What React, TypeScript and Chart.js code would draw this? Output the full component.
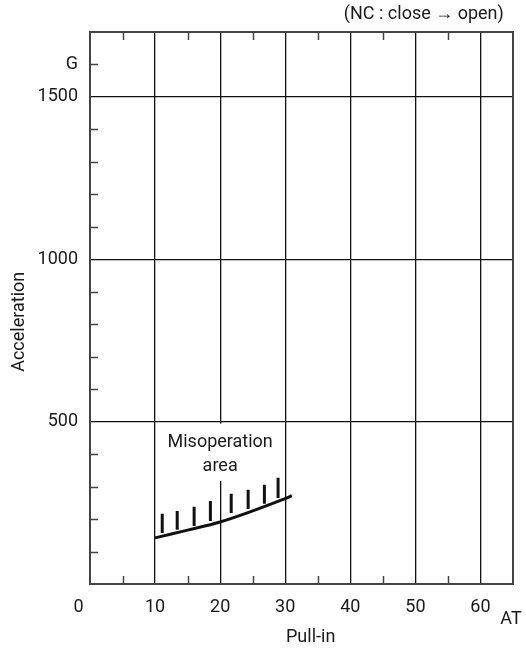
import React, { useEffect, useRef } from "react";
import { Chart, registerables } from "chart.js";

Chart.register(...registerables);

// Data
const curveX = [10, 15, 20, 25, 30, 31];
const curveY = [142, 166, 191, 225, 263, 272];
const hatchX = [11.1, 13.4, 16.0, 18.5, 21.7, 24.3, 26.8, 28.9];
const hatchBottom = [157, 167, 179, 194, 219, 231, 247, 265];
const hatchTop = [216, 225, 238, 256, 278, 290, 306, 327];
const xMajorTicks = [10, 20, 30, 40, 50, 60];
const xMinorTicks = [5, 15, 25, 35, 45, 55];
const yMajorTicks = [500, 1000, 1500];
const yMinorTicks = [100, 200, 300, 400, 600, 700, 800, 900, 1100, 1200, 1300, 1400, 1600];
const areaLabel = ["Misoperation", "area"];
const areaLabelX = 20;
const areaLabelY = [435, 361];
const titleText = "(NC : close \u2192 open)";
const xTitle = "Pull-in";
const yTitle = "Acceleration";
const xUnit = "AT";
const yUnit = "G";

const FONT = "Roboto, 'Liberation Sans Narrow', sans-serif";
const TEXT = "#1a1a1a";
const BORDER = "#444";

export default function App() {
  const ref = useRef<HTMLCanvasElement | null>(null);

  useEffect(() => {
    if (!ref.current) return;

    const hatchData: any[] = [];
    hatchX.forEach((x, i) => {
      hatchData.push({ x, y: hatchBottom[i] });
      hatchData.push({ x, y: hatchTop[i] });
      hatchData.push({ x, y: null });
    });

    const framePlugin = {
      id: "frame",
      beforeDatasetsDraw(chart: any) {
        const { ctx, chartArea, scales } = chart;
        const xs = scales.x;
        const ys = scales.y;
        ctx.save();
        // label background (cuts the grid line under the label)
        const lx = xs.getPixelForValue(areaLabelX);
        const y1 = ys.getPixelForValue(500) + 2;
        const y2 = ys.getPixelForValue(areaLabelY[1]) + 14;
        ctx.fillStyle = "#fff";
        ctx.fillRect(lx - 50, y1, 100, y2 - y1);
        ctx.fillStyle = TEXT;
        ctx.font = `18px ${FONT}`;
        ctx.textAlign = "center";
        ctx.textBaseline = "middle";
        areaLabel.forEach((t, i) => {
          ctx.fillText(t, lx, ys.getPixelForValue(areaLabelY[i]));
        });
        // minor ticks
        ctx.strokeStyle = BORDER;
        ctx.lineWidth = 1.5;
        const tl = 8;
        ctx.beginPath();
        xMinorTicks.forEach((v) => {
          const p = Math.round(xs.getPixelForValue(v)) + 0.5;
          ctx.moveTo(p, chartArea.bottom);
          ctx.lineTo(p, chartArea.bottom - tl);
          ctx.moveTo(p, chartArea.top);
          ctx.lineTo(p, chartArea.top + tl);
        });
        yMinorTicks.forEach((v) => {
          const p = Math.round(ys.getPixelForValue(v)) + 0.5;
          ctx.moveTo(chartArea.left, p);
          ctx.lineTo(chartArea.left + tl, p);
        });
        ctx.stroke();
        // frame
        ctx.lineWidth = 2;
        ctx.strokeRect(chartArea.left, chartArea.top, chartArea.right - chartArea.left, chartArea.bottom - chartArea.top);
        // unit AT
        ctx.fillStyle = TEXT;
        ctx.font = `18px ${FONT}`;
        ctx.textAlign = "center";
        ctx.textBaseline = "middle";
        ctx.fillText(xUnit, xs.getPixelForValue(65) - 2, chartArea.bottom + 35);
        ctx.restore();
      },
    };

    const chart = new Chart(ref.current, {
      type: "scatter",
      data: {
        datasets: [
          {
            data: curveX.map((x, i) => ({ x, y: curveY[i] })),
            showLine: true,
            borderColor: "#111",
            borderWidth: 3,
            pointRadius: 0,
            tension: 0.4,
          } as any,
          {
            data: hatchData,
            showLine: true,
            spanGaps: false,
            borderColor: "#111",
            borderWidth: 3,
            pointRadius: 0,
          } as any,
        ],
      },
      options: {
        animation: false,
        responsive: false,
        maintainAspectRatio: false,
        layout: { padding: { left: 0, right: 13, top: 0, bottom: 0 } },
        plugins: {
          legend: { display: false },
          tooltip: { enabled: false },
          title: {
            display: true,
            text: titleText + "\u2002",
            align: "end",
            color: TEXT,
            font: { family: FONT, size: 18, weight: "normal" },
            padding: { top: 4, bottom: 6.4 },
          },
        },
        scales: {
          x: {
            type: "linear",
            min: 0,
            max: 65,
            afterFit(scale: any) {
              scale.height = 74;
            },
            afterBuildTicks(scale: any) {
              scale.ticks = [0, ...xMajorTicks].map((v) => ({ value: v }));
            },
            ticks: {
              color: TEXT,
              font: { family: FONT, size: 18 },
              padding: 13,
              maxRotation: 0,
              autoSkip: false,
              callback: (v: any) => (v === 0 ? "0\u2003 " : String(v)),
            },
            grid: {
              drawTicks: false,
              color: (c: any) => (xMajorTicks.includes(c.tick?.value) ? "#111" : "rgba(0,0,0,0)"),
              lineWidth: 1.3,
            },
            border: { display: false },
            title: {
              display: true,
              text: "\u2003" + xTitle,
              color: TEXT,
              font: { family: FONT, size: 18 },
              padding: { top: 10, bottom: 10 },
            },
          },
          y: {
            type: "linear",
            min: 0,
            max: 1700,
            afterFit(scale: any) {
              scale.width = 90;
            },
            afterBuildTicks(scale: any) {
              scale.ticks = [...yMajorTicks, 1600].map((v) => ({ value: v }));
            },
            ticks: {
              color: TEXT,
              font: { family: FONT, size: 18 },
              padding: 12,
              autoSkip: false,
              callback: (v: any) => (v === 1600 ? yUnit : String(v)),
            },
            grid: {
              drawTicks: false,
              color: (c: any) => (yMajorTicks.includes(c.tick?.value) ? "#111" : "rgba(0,0,0,0)"),
              lineWidth: 1.3,
            },
            border: { display: false },
            title: {
              display: true,
              text: yTitle + "\u2003\u2002",
              color: TEXT,
              font: { family: FONT, size: 18 },
              padding: { top: 9, bottom: 9 },
            },
          },
        },
      } as any,
      plugins: [framePlugin],
    });
    return () => chart.destroy();
  }, []);

  return (
    <div style={{ position: "absolute", left: 0, top: 0, width: 526, height: 658, background: "#fff" }}>
      <canvas ref={ref} width={526} height={658} style={{ width: 526, height: 658 }} />
    </div>
  );
}
